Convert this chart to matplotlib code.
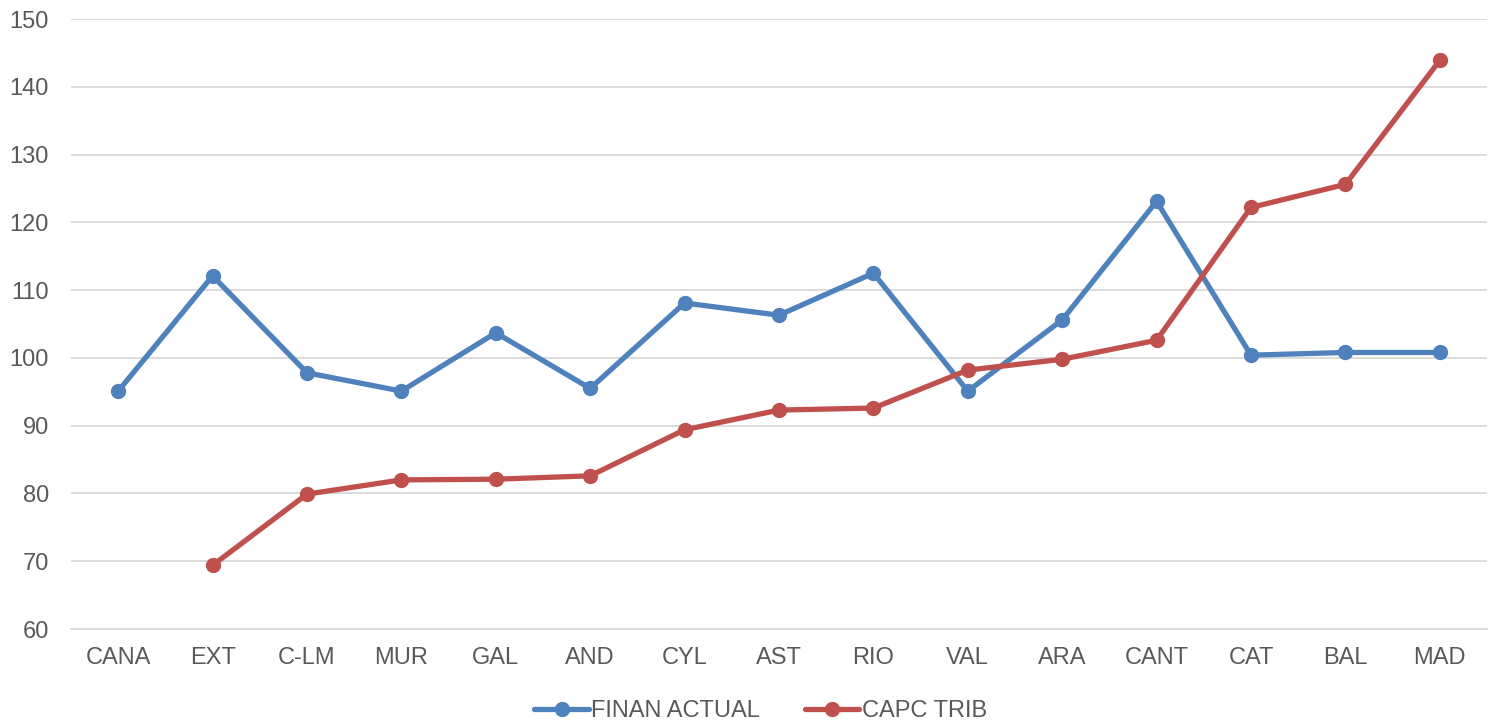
import matplotlib
matplotlib.use("Agg")
import matplotlib.pyplot as plt

regions = ["CANA", "EXT", "C-LM", "MUR", "GAL", "AND", "CYL", "AST", "RIO",
           "VAL", "ARA", "CANT", "CAT", "BAL", "MAD"]
finan_actual = [95.1, 112.1, 97.8, 95.1, 103.7, 95.5, 108.1, 106.3, 112.5,
                95.1, 105.6, 123.1, 100.4, 100.8, 100.8]
capc_trib = [None, 69.4, 79.9, 82.0, 82.1, 82.6, 89.4, 92.3, 92.6,
             98.2, 99.8, 102.6, 122.2, 125.6, 143.9]

plt.rcParams['font.family'] = ['Liberation Sans', 'DejaVu Sans']

fig = plt.figure(figsize=(14.9, 7.22), dpi=100)
ax = fig.add_axes([71 / 1490, 1 - 629 / 722, 1416 / 1490, 610 / 722])

x = list(range(len(regions)))
ax.plot(x, finan_actual, color="#4f81bd", lw=3.8, marker="o", ms=10,
        label="FINAN ACTUAL", solid_capstyle="round")
xr = [i for i, v in zip(x, capc_trib) if v is not None]
yr = [v for v in capc_trib if v is not None]
ax.plot(xr, yr, color="#c0504d", lw=3.8, marker="o", ms=10,
        label="CAPC TRIB", solid_capstyle="round")

ax.set_xlim(-0.5, len(regions) - 0.5)
ax.set_ylim(60, 150)
ax.set_yticks(range(60, 151, 10))
ax.set_xticks(x)
ax.set_xticklabels(regions)
ax.yaxis.grid(True, color="#d9d9d9", lw=1.3)
ax.set_axisbelow(True)
for s in ["top", "right", "left"]:
    ax.spines[s].set_visible(False)
ax.spines["bottom"].set_color("#d9d9d9")
ax.spines["bottom"].set_linewidth(1.3)
ax.tick_params(length=0, labelsize=17, colors="#595959", pad=13)
ax.tick_params(axis="y", pad=16)

ax.legend(loc="upper center", bbox_to_anchor=(0.487, -0.082), ncol=2,
          frameon=False, fontsize=17, labelcolor="#595959",
          handlelength=2.3, columnspacing=1.9, handletextpad=0.1)

fig.savefig("out.png", dpi=100)
